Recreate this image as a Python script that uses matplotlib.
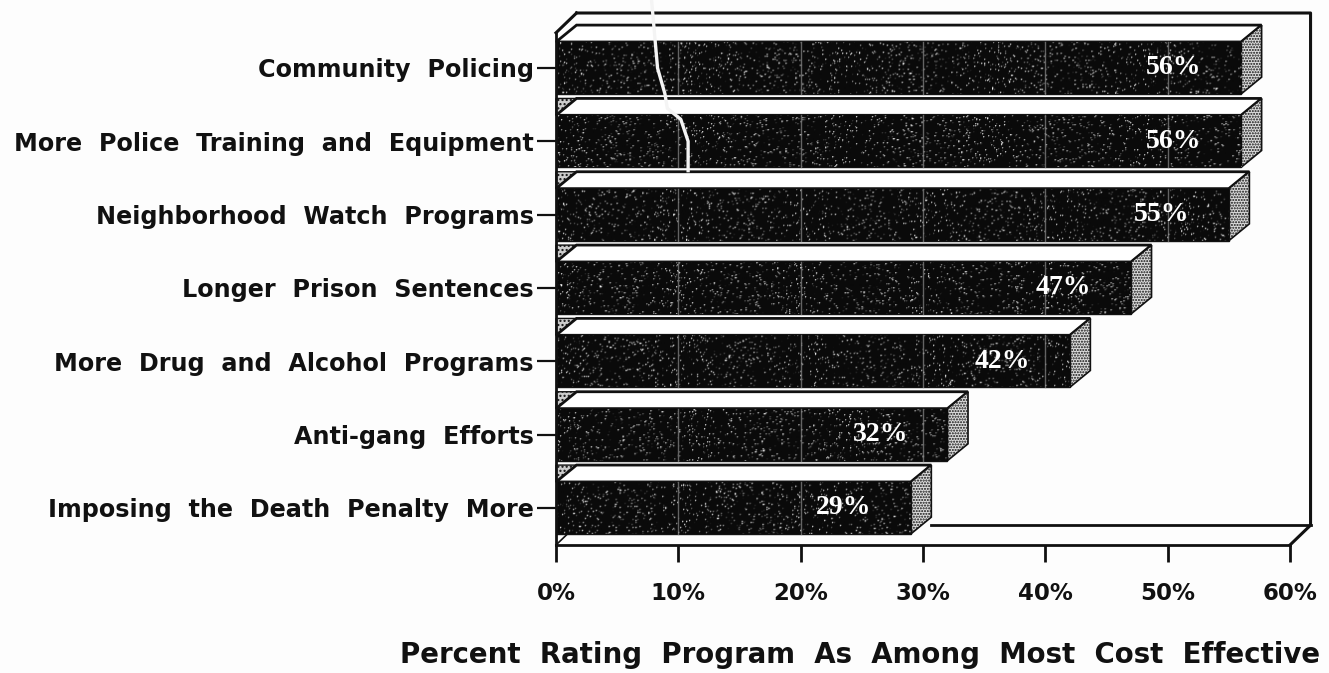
import matplotlib
matplotlib.use("Agg")
import matplotlib.pyplot as plt
import numpy as np
from matplotlib.patches import Polygon

programs = ["Community  Policing", "More  Police  Training  and  Equipment",
            "Neighborhood  Watch  Programs", "Longer  Prison  Sentences",
            "More  Drug  and  Alcohol  Programs", "Anti-gang  Efforts",
            "Imposing  the  Death  Penalty  More"]
percents = [56, 56, 55, 47, 42, 32, 29]
xticks = [0, 10, 20, 30, 40, 50, 60]
xlabels = ["0%", "10%", "20%", "30%", "40%", "50%", "60%"]

W, H = 1329, 673
LEFT, RIGHT, TOP, BOTTOM = 556, 1290, 13, 545
DX, DY = 1.68, 0.23   # depth of the 3d effect, in data units
BAR_H = 0.71

plt.rcParams["font.family"] = ["DejaVu Sans"]

fig = plt.figure(figsize=(W / 100, H / 100), dpi=100, facecolor="#fdfdfd")
ax = fig.add_axes([LEFT / W, 1 - BOTTOM / H, (RIGHT - LEFT) / W, (BOTTOM - TOP) / H])
ax.patch.set_alpha(0)

y = np.arange(len(programs))
ylim = (6.505, -0.75)
ink = "#111111"

# photocopy grain for the bar fronts
rng = np.random.RandomState(4)
grain = (rng.rand(540, 740) > 0.95) * rng.rand(540, 740)
grain = grain + np.roll(grain, 1, 0) * 0.3 + np.roll(grain, 1, 1) * 0.3
grain = np.clip(grain * 0.9 + 0.04, 0, 1)

bars = ax.barh(y, percents, height=BAR_H, color=ink, edgecolor=ink, linewidth=1, zorder=3)

for bar, pct, yi in zip(bars, percents, y):
    im = ax.imshow(grain, extent=(0, 60, 6.5, -0.75), cmap="gray", vmin=0, vmax=1,
                   aspect="auto", interpolation="bilinear", zorder=3.1)
    im.set_clip_path(bar)
    t = yi - BAR_H / 2
    b = yi + BAR_H / 2
    # top face
    ax.add_patch(Polygon([(0, t), (pct, t), (pct + DX, t - DY), (DX, t - DY)], closed=True,
                         facecolor="white", edgecolor=ink, linewidth=2, zorder=2.5, clip_on=False))
    # side face
    ax.add_patch(Polygon([(pct, t), (pct + DX, t - DY), (pct + DX, b - DY), (pct, b)], closed=True,
                         facecolor="#dddddd", edgecolor=ink, hatch="......", linewidth=1.2,
                         zorder=2.6, clip_on=False))
    # sliver at the left end, the first bar has nothing above it
    if yi > 0:
        ax.add_patch(Polygon([(0, t), (DX, t - DY), (0, t - DY)], closed=True, facecolor="#cccccc",
                             edgecolor=ink, hatch="....", linewidth=1, zorder=2.4, clip_on=False))
    # gridlines showing through
    for g in xticks[1:-1]:
        if g < pct:
            ax.plot([g, g], [t, b], color="#8a8a8a", linewidth=1, alpha=0.7, zorder=3.2)
    ax.text(pct - 5.5, yi, f"{pct}%", color="white", ha="center", va="center",
            family=["Liberation Serif", "DejaVu Serif"], fontweight="bold", fontsize=20, zorder=4)

# box drawn behind the bars
ax.set_xlim(0, 60)
ax.set_ylim(ylim)
top = ylim[1]
box_x = [DX, 60 + DX, 60 + DX, 60]
box_y = [top, top, ylim[0] - 0.27, ylim[0]]
ax.plot(box_x, box_y, color=ink, linewidth=2.2, clip_on=False, zorder=2)
ax.plot([0, DX], [top + 0.27, top], color=ink, linewidth=2.2, clip_on=False, zorder=2)
ax.plot([percents[-1] + DX, 60 + DX], [ylim[0] - 0.27, ylim[0] - 0.27], color=ink, linewidth=2, clip_on=False, zorder=2)
ax.plot([0, DX], [ylim[0], ylim[0] - 0.27], color=ink, linewidth=1.2, zorder=2.2, clip_on=False)

# crease in the scanned page
ax.plot([7.8, 8.3, 8.9, 9.1, 10.2, 10.8, 10.8],
        [top - 0.2, 0.0, 0.35, 0.55, 0.7, 1.0, 1.4],
        color="#f4f4f4", linewidth=2.4, zorder=3.5, clip_on=False)

for name in ["top", "right"]:
    ax.spines[name].set_visible(False)
for name in ["left", "bottom"]:
    ax.spines[name].set_linewidth(2)
    ax.spines[name].set_color(ink)
    ax.spines[name].set_zorder(5)
ax.spines["left"].set_bounds(ylim[0], top + 0.27)

ax.set_yticks(y)
ax.set_yticklabels(programs, fontweight="bold", fontsize=17.2, color=ink)
ax.set_xticks(xticks)
ax.set_xticklabels(xlabels, fontweight="bold", fontsize=16.5, color=ink)
ax.tick_params(axis="y", length=14, width=1.6, pad=2, color=ink)
ax.tick_params(axis="x", length=12, width=2, pad=15, color=ink)

ax.set_xlabel("Percent  Rating  Program  As  Among  Most  Cost  Effective",
              fontweight="bold", fontsize=19.9, color=ink)
ax.xaxis.set_label_coords((860 - LEFT) / (RIGHT - LEFT), -(655 - BOTTOM) / (BOTTOM - TOP), ax.transAxes)
ax.xaxis.label.set_va("center")

fig.savefig("out.png", dpi=100, facecolor=fig.get_facecolor())
